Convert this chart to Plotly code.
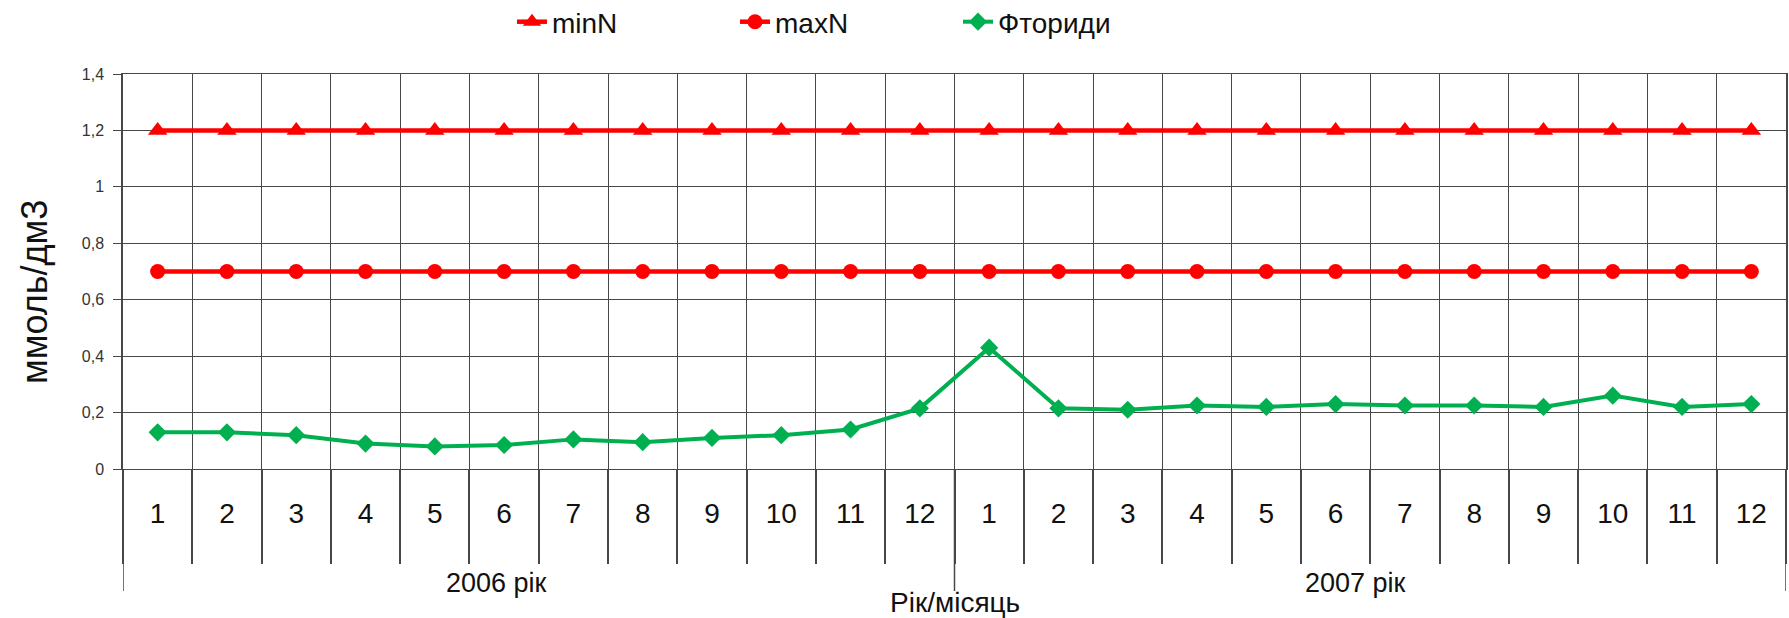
import plotly.graph_objects as go

# ---- data ----
years = ["2006 рік", "2007 рік"]
months = ["1", "2", "3", "4", "5", "6", "7", "8", "9", "10", "11", "12"]
min_n = [1.2, 1.2, 1.2, 1.2, 1.2, 1.2, 1.2, 1.2, 1.2, 1.2, 1.2, 1.2,
         1.2, 1.2, 1.2, 1.2, 1.2, 1.2, 1.2, 1.2, 1.2, 1.2, 1.2, 1.2]
max_n = [0.7, 0.7, 0.7, 0.7, 0.7, 0.7, 0.7, 0.7, 0.7, 0.7, 0.7, 0.7,
         0.7, 0.7, 0.7, 0.7, 0.7, 0.7, 0.7, 0.7, 0.7, 0.7, 0.7, 0.7]
fluorides = [0.13, 0.13, 0.12, 0.09, 0.08, 0.085, 0.105, 0.095, 0.11, 0.12, 0.14, 0.215,
             0.43, 0.215, 0.21, 0.225, 0.22, 0.23, 0.225, 0.225, 0.22, 0.26, 0.22, 0.23]
y_ticks = [0, 0.2, 0.4, 0.6, 0.8, 1.0, 1.2, 1.4]

# category positions built from the data
n_per_year = len(months)
x_idx = list(range(len(years) * n_per_year))
tick_text = [m for _ in years for m in months]
bounds = [i - 0.5 for i in range(len(x_idx) + 1)]
year_edges = [k * n_per_year - 0.5 for k in range(len(years) + 1)]
year_centers = [k * n_per_year + (n_per_year - 1) / 2 for k in range(len(years))]

FONT = "Liberation Sans, Arial, sans-serif"
GRID = "#474747"
RED = "#ff0000"
GREEN = "#00b050"

fig = go.Figure()
fig.add_trace(go.Scatter(x=x_idx, y=min_n, name="minN", mode="lines+markers",
                         line=dict(color=RED, width=4.5),
                         marker=dict(symbol="triangle-up", size=17, color=RED)))
fig.add_trace(go.Scatter(x=x_idx, y=max_n, name="maxN", mode="lines+markers",
                         line=dict(color=RED, width=4.5),
                         marker=dict(symbol="circle", size=15, color=RED)))
fig.add_trace(go.Scatter(x=x_idx, y=fluorides, name="Фториди", mode="lines+markers",
                         line=dict(color=GREEN, width=4),
                         marker=dict(symbol="diamond", size=14, color=GREEN)))

plot_h = 618 - 74 - 149

shapes = []
for xe in year_edges:
    shapes.append(dict(type="line", xref="x", yref="paper", x0=xe, x1=xe,
                       y0=0, y1=-(591 - 469) / plot_h,
                       line=dict(color=GRID, width=1.5)))

annotations = []
year_label_shift = [-42, -15]
for yc, lab, sh in zip(year_centers, years, year_label_shift):
    annotations.append(dict(x=yc, y=-(583 - 469) / plot_h, xref="x", yref="paper",
                            text=lab, showarrow=False, xanchor="center", yanchor="middle",
                            xshift=sh,
                            font=dict(family=FONT, size=27, color="#111")))
annotations.append(dict(x=0.5, y=-(602 - 469) / plot_h, xref="paper", yref="paper",
                        text="Рік/місяць", showarrow=False, xanchor="center", yanchor="middle",
                        font=dict(family=FONT, size=28, color="#111")))
annotations.append(dict(x=(34 - 123) / 1663, y=(469 - 292) / plot_h, xref="paper", yref="paper",
                        text="ммоль/дм3", showarrow=False, textangle=-90,
                        xanchor="center", yanchor="middle",
                        font=dict(family="Liberation Sans Narrow, " + FONT, size=36, color="#111")))

fig.update_layout(
    width=1789, height=618,
    margin=dict(l=123, r=3, t=74, b=149, autoexpand=False),
    paper_bgcolor="white", plot_bgcolor="white",
    separators=", ",
    font=dict(family=FONT, color="#111"),
    showlegend=True,
    legend=dict(orientation="h", x=(512 - 123) / 1663, xanchor="left",
                y=(469 - 22) / plot_h, yanchor="middle",
                font=dict(family=FONT, size=28, color="#111"),
                entrywidth=178, entrywidthmode="pixels",
                bgcolor="rgba(0,0,0,0)"),
    shapes=shapes,
    annotations=annotations,
)

fig.update_xaxes(
    range=[-0.5, len(x_idx) - 0.5],
    tickmode="array", tickvals=x_idx, ticktext=tick_text, tickangle=0,
    ticks="", ticklabelstandoff=19,
    tickfont=dict(family=FONT, size=28, color="#111"),
    showgrid=False, zeroline=False,
    showline=True, linecolor=GRID, linewidth=1.2, mirror=True,
    minor=dict(tickmode="array", tickvals=bounds, ticks="outside", ticklen=94,
               tickwidth=1.5, tickcolor=GRID, showgrid=True, gridcolor=GRID, gridwidth=1.2),
)
fig.update_yaxes(
    range=[0, 1.4], tickmode="array", tickvals=y_ticks,
    ticks="outside", ticklen=8, tickcolor=GRID, tickwidth=1.2,
    ticklabelstandoff=6,
    tickfont=dict(family=FONT, size=16, color="#333"),
    showgrid=True, gridcolor=GRID, gridwidth=1.2, zeroline=False,
    showline=True, linecolor=GRID, linewidth=1.5, mirror=True,
)

fig.write_html("out.html", config={"displayModeBar": False},
               post_script="document.body.style.margin='0';document.body.style.overflow='hidden';")
